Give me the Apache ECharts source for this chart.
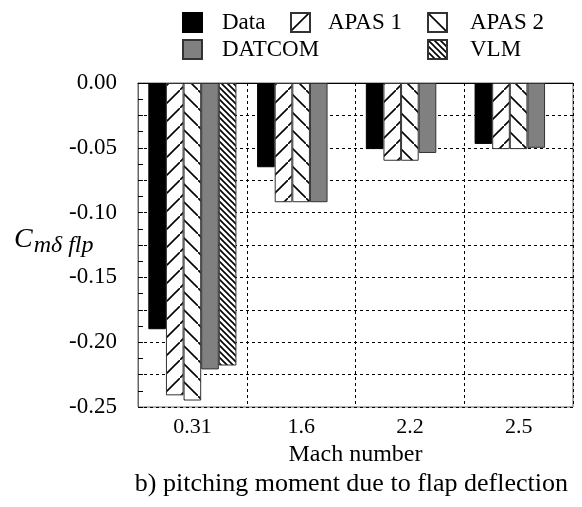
<!DOCTYPE html>
<html>
<head>
<meta charset="utf-8">
<script src="https://cdn.jsdelivr.net/npm/echarts@6/dist/echarts.min.js"></script>
<style>
  html, body { margin: 0; padding: 0; background: #fff; }
  #chart { width: 582px; height: 507px; }
</style>
</head>
<body>
<div id="chart"></div>
<script>
// Mach numbers and pitching moment derivative per method
const machLabels = ['0.31', '1.6', '2.2', '2.5'];
const dataVals   = [-0.190, -0.065, -0.051, -0.047];
const apas1Vals  = [-0.241, -0.092, -0.060, -0.051];
const apas2Vals  = [-0.245, -0.092, -0.060, -0.051];
const datcomVals = [-0.221, -0.092, -0.054, -0.050];
const vlmVals    = [-0.218, null, null, null];

const FONT = '"Liberation Serif", "DejaVu Serif", serif';

// — hatch patterns —
function hatch(w, h, draw) {
  const c = document.createElement('canvas');
  c.width = w; c.height = h;
  const ctx = c.getContext('2d');
  ctx.fillStyle = '#fff';
  ctx.fillRect(0, 0, w, h);
  ctx.strokeStyle = '#000';
  ctx.lineWidth = 1.6;
  draw(ctx);
  return { image: c, repeat: 'repeat' };
}
const apas1Pattern = hatch(18, 18, ctx => {
  ctx.beginPath();
  ctx.moveTo(-1, 19); ctx.lineTo(19, -1);
  ctx.stroke();
});
const apas2Pattern = hatch(18, 18, ctx => {
  ctx.beginPath();
  ctx.moveTo(-1, -1); ctx.lineTo(19, 19);
  ctx.stroke();
});
const vlmPattern = hatch(6, 6, ctx => {
  ctx.beginPath();
  ctx.moveTo(-1, -1); ctx.lineTo(7, 7);
  ctx.moveTo(-4, 2); ctx.lineTo(4, 10);
  ctx.moveTo(2, -4); ctx.lineTo(10, 4);
  ctx.stroke();
});

const chart = echarts.init(document.getElementById('chart'));

const legendText = { fontFamily: FONT, fontSize: 23, color: '#000' };
const legendBase = { orient: 'vertical', top: 6, icon: 'rect',
                     itemWidth: 19, itemHeight: 19, itemGap: 4 };

chart.setOption({
  animation: false,
  textStyle: { fontFamily: FONT },
  grid: { left: 138, right: 9, top: 83, bottom: 100, show: true,
          borderColor: '#666', borderWidth: 1 },
  legend: [
    { ...legendBase, left: 177, data: ['Data', 'DATCOM'],
      textStyle: { ...legendText, padding: [0, 0, 0, 15] } },
    { ...legendBase, left: 285, data: ['APAS 1'],
      textStyle: { ...legendText, padding: [0, 0, 0, 13] } },
    { ...legendBase, left: 422, data: ['APAS 2', 'VLM'],
      textStyle: { ...legendText, padding: [0, 0, 0, 18] } }
  ],
  title: {
    text: 'b) pitching moment due to flap deflection',
    right: 9, top: 466,
    textStyle: { fontFamily: FONT, fontSize: 26, fontWeight: 'normal', color: '#000' }
  },
  graphic: [{
    type: 'text', left: 14, top: 226,
    style: {
      text: '{c|C}{s|mδ flp}',
      rich: {
        c: { fontFamily: FONT, fontSize: 28, fontStyle: 'italic', fill: '#000' },
        s: { fontFamily: FONT, fontSize: 24, fontStyle: 'italic', fill: '#000',
             padding: [12, 0, 0, 1] }
      }
    }
  }],
  xAxis: {
    type: 'category',
    data: machLabels,
    name: 'Mach number',
    nameLocation: 'middle',
    nameGap: 31,
    nameTextStyle: { fontFamily: FONT, fontSize: 24, color: '#000' },
    axisLine: { lineStyle: { color: '#000' } },
    axisTick: { show: false },
    axisLabel: { fontFamily: FONT, fontSize: 22, color: '#000', margin: 9 },
    splitLine: { show: true, lineStyle: { color: '#000', type: [3, 3], width: 1 } }
  },
  yAxis: [
    {
      type: 'value',
      min: -0.25, max: 0, interval: 0.025,
      axisLine: { show: true, lineStyle: { color: '#666' } },
      axisTick: { show: false },
      axisLabel: {
        fontFamily: FONT, fontSize: 23, color: '#000', margin: 21,
        formatter: v => (Math.round(v * 1000) % 50 === 0 ? v.toFixed(2) : '')
      },
      splitLine: { show: true, lineStyle: { color: '#000', type: [3, 3], width: 1 } }
    },
    {
      // tick-only axis: inward ticks every 0.0125
      type: 'value', position: 'left',
      min: -0.25, max: 0, interval: 0.0125,
      axisLine: { show: false },
      axisTick: { show: true, inside: true, length: 5, lineStyle: { color: '#000' } },
      axisLabel: { show: false },
      splitLine: { show: false }
    }
  ],
  series: [
    { name: 'Data', type: 'bar', data: dataVals, barGap: 0, barCategoryGap: '19%',
      itemStyle: { color: '#000', borderColor: '#000', borderWidth: 1 } },
    { name: 'APAS 1', type: 'bar', data: apas1Vals,
      itemStyle: { color: apas1Pattern, borderColor: '#333', borderWidth: 1 } },
    { name: 'APAS 2', type: 'bar', data: apas2Vals,
      itemStyle: { color: apas2Pattern, borderColor: '#333', borderWidth: 1 } },
    { name: 'DATCOM', type: 'bar', data: datcomVals,
      itemStyle: { color: '#808080', borderColor: '#333', borderWidth: 1 } },
    { name: 'VLM', type: 'bar', data: vlmVals,
      itemStyle: { color: vlmPattern, borderColor: '#333', borderWidth: 1 } }
  ]
});
</script>
</body>
</html>
